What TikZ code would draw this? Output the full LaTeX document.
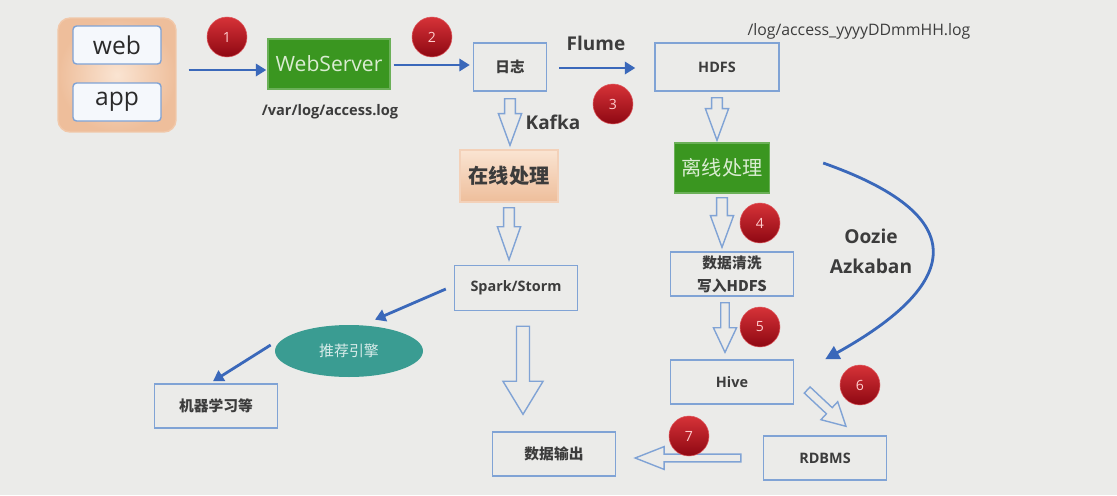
\documentclass[tikz,border=0pt]{standalone}
\usepackage{fontspec}
\setmainfont{Open Sans}
\newfontfamily\cjk{Noto Sans CJK SC}
\usetikzlibrary{calc,arrows.meta,shapes.geometric}

\definecolor{bg}{RGB}{235,235,233}
\definecolor{flowblue}{RGB}{58,104,186}
\definecolor{boxline}{RGB}{128,163,213}
\definecolor{txt}{RGB}{60,60,60}
\definecolor{srvgreen}{RGB}{58,150,32}
\definecolor{greentxt}{RGB}{218,236,210}
\definecolor{peachin}{RGB}{250,228,210}
\definecolor{peachout}{RGB}{238,190,155}
\definecolor{recteal}{RGB}{58,156,146}
\definecolor{balltop}{RGB}{214,50,56}
\definecolor{ballbot}{RGB}{142,8,18}

\tikzset{
  box/.style={draw=boxline, line width=0.8pt, text=txt, font=\bfseries\fontsize{8.2}{10}\selectfont,
    minimum width=2.46cm, minimum height=0.88cm, inner sep=1pt, align=center},
  greenbox/.style={draw=srvgreen!75!white, fill=srvgreen, text=greentxt},
  peachbox/.style={draw=peachout!70!white, top color=peachin, bottom color=peachout},
  appbox/.style={draw=boxline, fill=white!92!boxline, line width=0.8pt, rounded corners=2pt,
    minimum width=1.76cm, minimum height=0.76cm, text=txt!70!black, font=\fontsize{14}{16}\selectfont},
  flow/.style={draw=flowblue, line width=1.6pt, -{Triangle[length=6pt,width=7pt]}},
  hollow/.style={draw=boxline, line width=0.8pt, line join=miter},
  numball/.style={circle, top color=balltop, bottom color=ballbot, draw=balltop!80!white, line width=0.3pt,
    minimum size=0.8cm, inner sep=0pt, text=red!20!white, font=\fontsize{8}{9}\selectfont},
  lbl/.style={text=txt, inner sep=0pt},
}

% hollow block arrow: from, to, shaft half width, head half width, head length
\newcommand\hollowarrow[5]{%
  \coordinate (ha) at (#1);
  \coordinate (hb) at (#2);
  \coordinate (hh) at ($(hb)!#5!(ha)$);
  \draw[hollow] ($(ha)!#3!90:(hb)$) -- ($(hh)!#3!90:(hb)$) -- ($(hh)!#4!90:(hb)$) -- (hb)
    -- ($(hh)!#4!-90:(hb)$) -- ($(hh)!#3!-90:(hb)$) -- ($(ha)!#3!-90:(hb)$) -- cycle;
}

\begin{document}
\begin{tikzpicture}[x=0.02cm, y=-0.02cm]
  \fill[bg] (0,0) rectangle (1117,495);
  \useasboundingbox (0,0) rectangle (1117,495);

  % sources
  \node[draw=peachout!85!white, line width=0.8pt, rounded corners=0.24cm, inner color=peachin,
    outer color=peachout, minimum width=2.36cm, minimum height=2.28cm] (webapp) at (117,75) {};
  \node[appbox] (web) at (117,45) {web};
  \node[appbox] (app) at (117,102) {app};

  % boxes
  \node[box, greenbox, minimum width=2.44cm, minimum height=1.0cm, font=\fontsize{12}{14}\selectfont] (webserver) at (329,64) {WebServer};
  \node[box, minimum width=1.46cm, minimum height=0.96cm, font=\cjk\bfseries\fontsize{8.3}{10}\selectfont] (log) at (510,67) {日志};
  \node[box, minimum width=2.48cm, minimum height=0.96cm] (hdfs) at (717,67) {HDFS};
  \node[box, peachbox, minimum width=1.96cm, minimum height=1.04cm, font=\cjk\bfseries\fontsize{11.5}{14}\selectfont] (online) at (509,176) {在线处理};
  \node[box, greenbox, minimum width=1.9cm, minimum height=1.0cm, font=\cjk\fontsize{11.5}{14}\selectfont] (offline) at (722,168) {离线处理};
  \node[box, minimum height=0.9cm] (spark) at (516,288) {Spark/Storm};
  \node[box, font=\cjk\bfseries\fontsize{8.4}{13}\selectfont] (clean) at (732,274) {数据清洗\\写入HDFS};
  \node[box] (hive) at (732,382) {Hive};
  \node[box] (rdbms) at (825,458) {RDBMS};
  \node[box, font=\cjk\bfseries\fontsize{8.4}{10}\selectfont] (output) at (554,454) {数据输出};
  \node[box, font=\cjk\bfseries\fontsize{8.4}{10}\selectfont] (ml) at (216,406) {机器学习等};
  \node[ellipse, fill=recteal, text=white!80!recteal, minimum width=2.96cm, minimum height=1.04cm,
    font=\cjk\fontsize{8.5}{10}\selectfont] (rec) at (349,351) {推荐引擎};

  % labels
  \node[lbl, font=\bfseries\fontsize{8.3}{10}\selectfont] (varlog) at (330,112) {/var/log/access.log};
  \node[lbl, font=\fontsize{9}{10}\selectfont] (hdfslog) at (859,31) {/log/access\_yyyyDDmmHH.log};
  \node[lbl, font=\bfseries\fontsize{10.8}{13}\selectfont] (flume) at (596,43) {Flume};
  \node[lbl, font=\bfseries\fontsize{10.8}{13}\selectfont] (kafka) at (553,122) {Kafka};
  \node[lbl, align=center, font=\bfseries\fontsize{10.9}{17}\selectfont] (oozie) at (871,251) {Oozie\\Azkaban};

  % blue arrows
  \draw[flow] ($(webapp.east)+(12,-5)$) -- ($(webserver.west)+(-1,6)$);
  \draw[flow] ($(webserver.east)+(3,1)$) -- ($(log.west)+(-3,-2)$);
  \draw[flow] ($(log.east)+(12,1)$) -- ($(hdfs.west)+(-19,1)$);
  \draw[flow] ($(spark.west)+(-8,1)$) -- ($(rec.north)+(26,-5)$);
  \draw[flow] ($(rec.west)+(-4,-6)$) -- ($(ml.north)+(-3,-2)$);
  \draw[flow, -{Triangle[length=8pt,width=8pt]}] ($(offline.east)+(53,-5)$)
    .. controls (985,220) and (950,290) .. ($(hive.north east)+(31,0)$);

  % hollow arrows
  \hollowarrow{$(log.south)+(0,7)$}{$(log.south |- online.north)+(0,-4)$}{3.1pt}{6.6pt}{18pt}
  \hollowarrow{$(hdfs.south)+(0,6)$}{$(hdfs.south |- offline.north)+(0,-2)$}{3.1pt}{6.6pt}{18pt}
  \hollowarrow{$(online.south)+(0,5)$}{$(online.south |- spark.north)+(0,-5)$}{3.1pt}{6.6pt}{18.8pt}
  \hollowarrow{$(offline.south)+(0,4)$}{$(offline.south |- clean.north)+(0,-4)$}{3.1pt}{6.6pt}{18pt}
  \hollowarrow{$(clean.south)+(-7,6)$}{$(clean.south |- hive.north)+(-7,-7)$}{2.4pt}{6.6pt}{14pt}
  \hollowarrow{$(hive.east)+(13,8)$}{$(rdbms.north)+(21,-9)$}{2.4pt}{7pt}{13pt}
  \hollowarrow{$(spark.south)+(7,15)$}{$(spark.south |- output.north)+(7,-17)$}{3.7pt}{11.4pt}{18.8pt}
  \hollowarrow{$(rdbms.west)+(-22,0)$}{$(output.east |- rdbms.west)+(19,0)$}{2.2pt}{6.5pt}{16.5pt}

  % step numbers
  \node[numball] (n1) at (227,37) {1};
  \node[numball] (n2) at (432,37) {2};
  \node[numball] (n3) at (613,104) {3};
  \node[numball] (n4) at (760,223) {4};
  \node[numball] (n5) at (760,327) {5};
  \node[numball] (n6) at (860,385) {6};
  \node[numball] (n7) at (689,436) {7};
\end{tikzpicture}
\end{document}
